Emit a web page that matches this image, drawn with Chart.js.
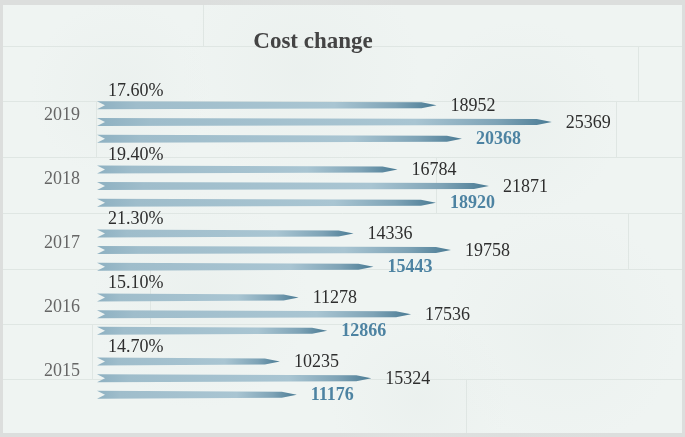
<!DOCTYPE html>
<html>
<head>
<meta charset="utf-8">
<script src="https://cdn.jsdelivr.net/npm/chart.js@4/dist/chart.umd.min.js"></script>
<style>
  html, body { margin: 0; padding: 0; background: #dcdedd; }
  #wrap { width: 685px; height: 437px; position: relative; }
</style>
</head>
<body>
<div id="wrap"><canvas id="c" width="685" height="437"></canvas></div>
<script>
const chartTitle = 'Cost change';
const years = ['2019', '2018', '2017', '2016', '2015'];
const seriesA = [18952, 16784, 14336, 11278, 10235];
const seriesB = [25369, 21871, 19758, 17536, 15324];
const seriesC = [20368, 18920, 15443, 12866, 11176];
const growth = ['17.60%', '19.40%', '21.30%', '15.10%', '14.70%'];

const SERIF = '"Liberation Serif", "DejaVu Serif", serif';

const backgroundPlugin = {
  id: 'bg',
  beforeDraw(chart) {
    const ctx = chart.ctx;
    const W = chart.width, H = chart.height;
    ctx.save();
    ctx.fillStyle = '#dcdedd';
    ctx.fillRect(0, 0, W, H);
    const x0 = 3, y0 = 5, x1 = W - 3, y1 = H - 4;
    ctx.fillStyle = '#eff4f2';
    ctx.fillRect(x0, y0, x1 - x0, y1 - y0);
    // soft blotches
    const blobs = [[120, 90, 90], [300, 70, 120], [520, 120, 100], [200, 300, 110], [560, 330, 120], [420, 400, 90]];
    blobs.forEach(([bx, by, r]) => {
      const g = ctx.createRadialGradient(bx, by, 0, bx, by, r);
      g.addColorStop(0, 'rgba(228,235,232,0.35)');
      g.addColorStop(1, 'rgba(228,235,232,0)');
      ctx.fillStyle = g;
      ctx.fillRect(bx - r, by - r, 2 * r, 2 * r);
    });
    // plank seams
    ctx.strokeStyle = '#dfe6e3';
    ctx.lineWidth = 1;
    const rows = [46, 101, 157, 213, 269, 324, 379];
    ctx.beginPath();
    rows.forEach(y => { ctx.moveTo(x0, y + 0.5); ctx.lineTo(x1, y + 0.5); });
    const seams = [[203, 5, 46], [638, 46, 101], [96, 101, 157], [616, 101, 157], [436, 157, 213], [628, 213, 269], [150, 269, 324], [92, 324, 379], [466, 379, 433]];
    seams.forEach(([x, a, b]) => { ctx.moveTo(x + 0.5, a); ctx.lineTo(x + 0.5, b); });
    ctx.stroke();
    // title
    ctx.fillStyle = '#444';
    ctx.font = 'bold 23px ' + SERIF;
    ctx.textAlign = 'center';
    ctx.textBaseline = 'middle';
    ctx.fillText(chartTitle, 313, 42);
    ctx.restore();
  }
};

const arrowPlugin = {
  id: 'arrows',
  afterDatasetsDraw(chart) {
    const ctx = chart.ctx;
    ctx.save();
    chart.data.datasets.forEach((ds, di) => {
      const meta = chart.getDatasetMeta(di);
      meta.data.forEach((bar, i) => {
        const p = bar.getProps(['x', 'y', 'base', 'height'], true);
        const xs = p.base, xe = p.x, yc = p.y, h = p.height / 2;
        const g = ctx.createLinearGradient(xs, 0, xe, 0);
        g.addColorStop(0, '#8db0c1');
        g.addColorStop(0.12, '#9fbdcb');
        g.addColorStop(0.7, '#a9c5d2');
        g.addColorStop(0.88, '#7ea3b6');
        g.addColorStop(1, '#4a7b94');
        ctx.fillStyle = g;
        ctx.beginPath();
        ctx.moveTo(xs + 1, yc - h - 1);
        ctx.lineTo(xe - 15, yc - h);
        ctx.lineTo(xe, yc);
        ctx.lineTo(xe - 15, yc + h);
        ctx.lineTo(xs + 1, yc + h + 1);
        ctx.lineTo(xs + 9, yc);
        ctx.closePath();
        ctx.fill();
        // value label
        ctx.textAlign = 'left';
        ctx.textBaseline = 'middle';
        if (di === 2) {
          ctx.font = 'bold 18px ' + SERIF;
          ctx.fillStyle = '#4d83a2';
        } else {
          ctx.font = '18px ' + SERIF;
          ctx.fillStyle = '#2e2e2e';
        }
        ctx.fillText(String(ds.data[i]), xe + 14, yc + 1);
        // growth label above first series
        if (di === 0) {
          ctx.font = '18px ' + SERIF;
          ctx.fillStyle = '#2e2e2e';
          ctx.fillText(growth[i], xs + 12, yc - 14);
        }
      });
    });
    ctx.restore();
  }
};

const common = { backgroundColor: 'rgba(0,0,0,0)', borderWidth: 0, maxBarThickness: 6, categoryPercentage: 0.78, barPercentage: 0.5 };

new Chart(document.getElementById('c'), {
  type: 'bar',
  data: {
    labels: years,
    datasets: [
      Object.assign({ label: 'A', data: seriesA }, common),
      Object.assign({ label: 'B', data: seriesB }, common),
      Object.assign({ label: 'C', data: seriesC }, common)
    ]
  },
  options: {
    indexAxis: 'y',
    responsive: false,
    animation: false,
    layout: { padding: { left: 0, right: 50, top: 90, bottom: 26 } },
    plugins: { legend: { display: false }, tooltip: { enabled: false }, title: { display: false } },
    scales: {
      x: { display: false, min: 0, max: 30000 },
      y: {
        grid: { display: false, drawTicks: false },
        border: { display: false },
        afterFit(s) { s.width = 96; },
        ticks: { padding: 16, labelOffset: -7, color: '#666', font: { family: SERIF, size: 18 } }
      }
    }
  },
  plugins: [backgroundPlugin, arrowPlugin]
});
</script>
</body>
</html>
